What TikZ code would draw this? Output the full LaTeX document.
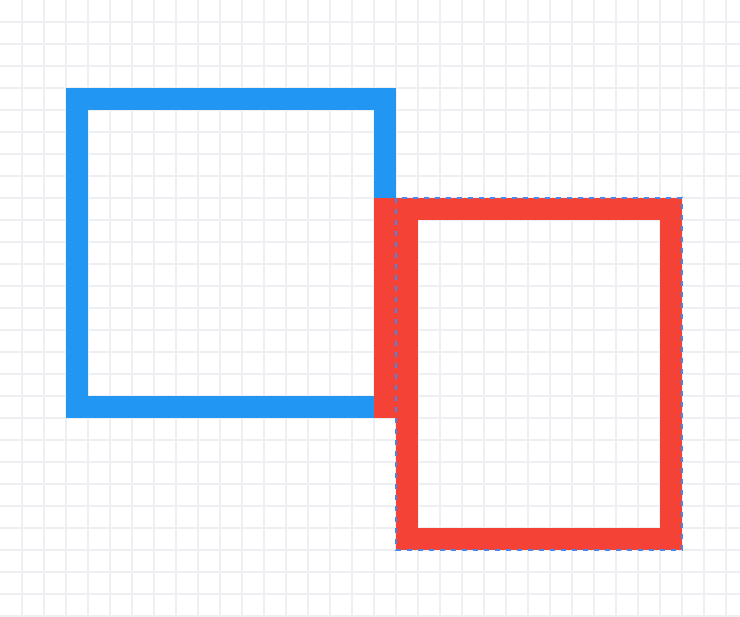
\documentclass[tikz,border=0pt]{standalone}
\definecolor{gridc}{HTML}{EDEFF3}
\definecolor{mblue}{HTML}{2196F3}
\definecolor{mred}{HTML}{F44336}
\definecolor{selc}{HTML}{4A86E8}
\tikzset{
  gridline/.style={gridc, line width=1.5pt},
  shapeframe/.style={line width=22pt, line join=miter},
  selframe/.style={selc, line width=2.4pt, dash pattern=on 5pt off 6pt}
}
\begin{document}
\begin{tikzpicture}[x=1pt,y=-1pt]
\useasboundingbox (0,0) rectangle (740,617);
\fill[white] (0,0) rectangle (740,617);
\foreach \i in {1,...,33} \draw[gridline] (22*\i,0) -- (22*\i,617);
\foreach \i in {1,...,28} \draw[gridline] (0,22*\i) -- (740,22*\i);
\draw[shapeframe, mblue] (77,99) rectangle (385,407);
\fill[mred] (374,198) rectangle (396,418);
\draw[shapeframe, mred] (407,209) rectangle (671,539);
\draw[selframe] (396,198) rectangle (682,550);
\end{tikzpicture}
\end{document}
